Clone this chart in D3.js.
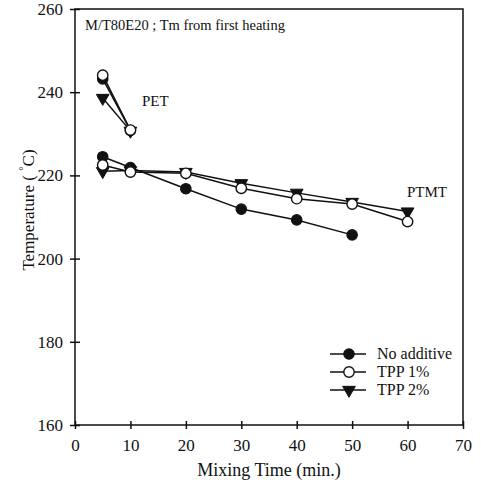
<!DOCTYPE html>
<html><head><meta charset="utf-8">
<script src="https://cdn.jsdelivr.net/npm/d3@7"></script>
<style>body{margin:0;background:#fff}svg{display:block}text{font-family:"Liberation Serif","Times New Roman",serif;fill:#111}</style>
</head><body><svg id="c" width="481" height="493"></svg>
<script>
const xTicks = [0,10,20,30,40,50,60,70];
const yTicks = [160,180,200,220,240,260];
const seriesNames = ["No additive","TPP 1%","TPP 2%"];
const petX = [5,10];
const petNoAdd = [243.2,230.8];
const petTpp1 = [244.1,230.9];
const petTpp2 = [238.6,230.7];
const ptmtXNoAdd = [5,10,20,30,40,50];
const ptmtNoAdd = [224.5,221.9,216.8,211.9,209.3,205.7];
const ptmtX = [5,10,20,30,40,50,60];
const ptmtTpp1 = [222.5,220.8,220.5,216.9,214.4,213.1,208.9];
const ptmtTpp2 = [221.0,221.2,220.8,218.1,215.8,213.6,211.3];

const svg = d3.select("#c");
const x = d3.scaleLinear().domain([0,70]).range([75,463]);
const y = d3.scaleLinear().domain([160,260]).range([425,9]);
const ink = "#111";

svg.append("rect").attr("x",x(0)).attr("y",y(260)).attr("width",x(70)-x(0)).attr("height",y(160)-y(260))
  .attr("fill","none").attr("stroke",ink).attr("stroke-width",1.5);

const gx = svg.append("g").attr("transform",`translate(0,${y(160)})`)
  .call(d3.axisBottom(x).tickValues(xTicks).tickSizeInner(4).tickSizeOuter(0).tickPadding(10));
gx.selectAll(".tick line").attr("y1",-4).attr("y2",4);
const gy = svg.append("g").attr("transform",`translate(${x(0)},0)`)
  .call(d3.axisLeft(y).tickValues(yTicks).tickSizeInner(4).tickSizeOuter(0).tickPadding(8));
gy.selectAll(".tick line").attr("x1",-5).attr("x2",5);
[gx,gy].forEach(g=>{
  g.select(".domain").remove();
  g.selectAll(".tick line").attr("stroke",ink).attr("stroke-width",1.5);
  g.selectAll(".tick text").attr("font-size",17).attr("font-family","Liberation Serif").attr("fill",ink);
});
gx.selectAll(".tick text").attr("dy","0.71em");

svg.append("text").attr("x",x(35)).attr("y",476).attr("text-anchor","middle").attr("font-size",18).text("Mixing Time (min.)");
const yl = svg.append("text").attr("transform","translate(34,210) rotate(-90)").attr("text-anchor","middle").attr("font-size",17);
yl.append("tspan").text("Temperature ( ");
yl.append("tspan").attr("font-size",11).attr("dy",-7).text("°");
yl.append("tspan").attr("dy",7).text("C)");

svg.append("text").attr("x",85).attr("y",30).attr("font-size",14.5).text("M/T80E20 ; Tm from first heating");
svg.append("text").attr("x",142).attr("y",106).attr("font-size",15).text("PET");
svg.append("text").attr("x",407).attr("y",197).attr("font-size",15).text("PTMT");

const line = d3.line().x(d=>x(d[0])).y(d=>y(d[1]));
const tri = d3.symbol().type(d3.symbolTriangle).size(70);
function marker(g, kind, cx, cy){
  if(kind===0) g.append("circle").attr("cx",cx).attr("cy",cy).attr("r",5.2).attr("fill",ink).attr("stroke",ink).attr("stroke-width",1.2);
  else if(kind===1) g.append("circle").attr("cx",cx).attr("cy",cy).attr("r",5.2).attr("fill","#fff").attr("stroke",ink).attr("stroke-width",1.4);
  else g.append("path").attr("d",tri).attr("transform",`translate(${cx},${cy}) rotate(180)`).attr("fill",ink).attr("stroke",ink).attr("stroke-width",1);
}
function series(xs, ys, kind){
  const pts = xs.map((v,i)=>[v,ys[i]]);
  const g = svg.append("g");
  g.append("path").attr("d",line(pts)).attr("fill","none").attr("stroke",ink).attr("stroke-width",1.5);
  pts.forEach(p=>marker(g,kind,x(p[0]),y(p[1])));
}
series(ptmtXNoAdd, ptmtNoAdd, 0);
series(ptmtX, ptmtTpp2, 2);
series(ptmtX, ptmtTpp1, 1);
series(petX, petNoAdd, 0);
series(petX, petTpp2, 2);
series(petX, petTpp1, 1);

const legY = [354,372,390];
seriesNames.forEach((n,i)=>{
  const g = svg.append("g");
  g.append("line").attr("x1",330).attr("x2",366).attr("y1",legY[i]).attr("y2",legY[i]).attr("stroke",ink).attr("stroke-width",1.5);
  marker(g,i,349,legY[i]);
  g.append("text").attr("x",377).attr("y",legY[i]+5).attr("font-size",16).text(n);
});
</script></body></html>
